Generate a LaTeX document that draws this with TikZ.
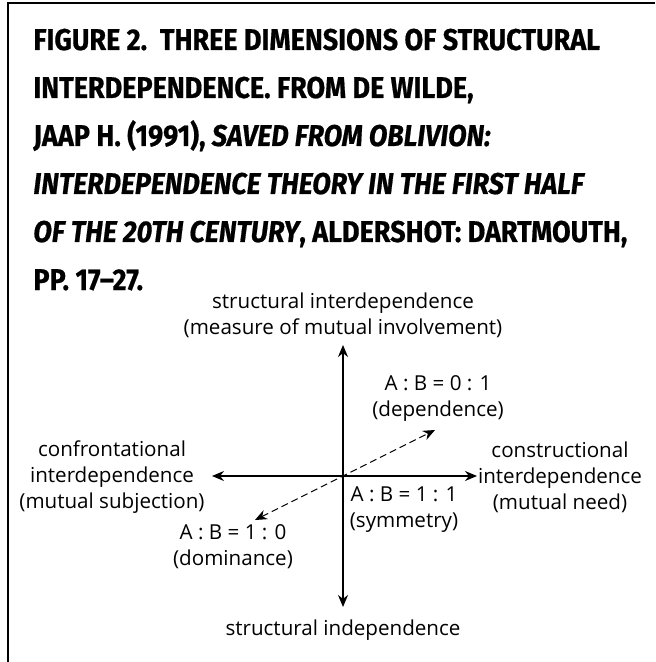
\documentclass[tikz,border=0pt]{standalone}
\usepackage{fontspec}
\setmainfont{Open Sans}
\newfontfamily\headfont[FakeStretch=0.9,FakeBold=0.6]{Fira Sans}
\usetikzlibrary{arrows.meta,positioning}
\tikzset{
  headline/.style={anchor=base west,inner sep=0pt,font=\headfont\bfseries\fontsize{15}{17}\selectfont},
  dimlabel/.style={align=center,inner sep=0pt,font=\fontsize{10.3}{13}\selectfont},
  axisline/.style={{Stealth[length=6pt,width=5pt]}-{Stealth[length=6pt,width=5pt]},line width=0.6pt},
  ratioline/.style={{Stealth[length=6pt,width=5pt]}-{Stealth[length=6pt,width=5pt]},line width=0.5pt,dash pattern=on 3.5pt off 2pt}
}
\begin{document}
\begin{tikzpicture}[x=0.5pt,y=-0.5pt]
\useasboundingbox (0,0) rectangle (655,662);
% frame
\draw[line width=0.8pt] (655,3) -- (8,3) -- (8,662);

% caption
\node[headline] (cap1) at (33,50) {FIGURE 2.\ \ THREE DIMENSIONS OF STRUCTURAL};
\node[headline] (cap2) at (33,98) {INTERDEPENDENCE. FROM DE WILDE,};
\node[headline] (cap3) at (33,146) {JAAP H. (1991), \textit{SAVED FROM OBLIVION:}};
\node[headline] (cap4) at (33,194) {\textit{INTERDEPENDENCE THEORY IN THE FIRST HALF}};
\node[headline] (cap5) at (33,242) {\textit{OF THE 20TH CENTURY}, ALDERSHOT: DARTMOUTH,};
\node[headline] (cap6) at (33,290) {PP. 17\textendash 27.};

% axes
\coordinate (o) at (343,476);
\coordinate (inv) at (343,345);
\coordinate (ind) at (343,607);
\coordinate (conf) at (212,476);
\coordinate (constr) at (477,476);
\coordinate (dep) at (435,430);
\coordinate (dom) at (255,520);

\draw[axisline] (conf) -- (constr);
\draw[axisline] (ind) -- (inv);
\draw[ratioline] (dom) -- (dep);

% labels
\node[dimlabel] (involve) at (343,315) {structural interdependence\\(measure of mutual involvement)};
\node[dimlabel] (indep) at (343,630) {structural independence};
\node[dimlabel] (confront) at (112,477) {confrontational\\interdependence\\(mutual subjection)};
\node[dimlabel] (construct) at (560,477) {constructional\\interdependence\\(mutual need)};
\node[dimlabel] (depend) at (438,399) {A : B = 0 : 1\\(dependence)};
\node[dimlabel] (symm) at (404,510) {A : B = 1 : 1\\(symmetry)};
\node[dimlabel] (domin) at (233,547) {A : B = 1 : 0\\(dominance)};
\end{tikzpicture}
\end{document}
